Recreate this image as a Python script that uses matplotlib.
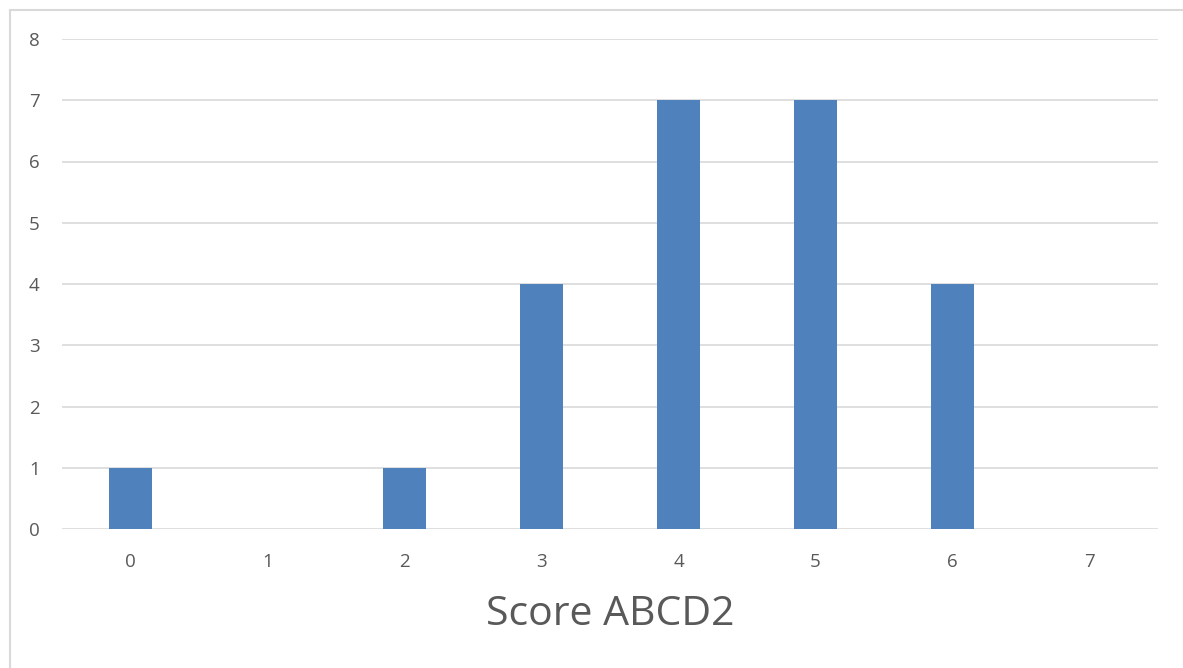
import matplotlib
matplotlib.use("Agg")
import matplotlib.pyplot as plt
from matplotlib.patches import Rectangle

# ABCD2 score distribution
scores = ["0", "1", "2", "3", "4", "5", "6", "7"]
counts = [1, 0, 1, 4, 7, 7, 4, 0]
y_ticks = [0, 1, 2, 3, 4, 5, 6, 7, 8]
x_title = "Score ABCD2"

plt.rcParams["font.family"] = ["Open Sans", "DejaVu Sans"]

W, H = 1183, 668
fig = plt.figure(figsize=(W / 100, H / 100), dpi=100)
fig.patch.set_facecolor("white")

# thin frame around the chart area
fig.patches.append(Rectangle((10 / W, -0.1), 1.2, (H - 10) / H + 0.1,
                             transform=fig.transFigure, fill=False,
                             edgecolor="#d9d9d9", linewidth=1.5))

ax = fig.add_axes([62 / W, 1 - 529 / H, (1158 - 62) / W, (529 - 39) / H])
x = list(range(len(scores)))
ax.bar(x, counts, width=0.31, color="#4f81bd", zorder=3)

ax.set_xlim(-0.5, len(scores) - 0.5)
ax.set_ylim(0, 8)
ax.set_yticks(y_ticks)
ax.set_xticks(x)
ax.set_xticklabels(scores)
ax.grid(axis="y", color="#d9d9d9", linewidth=1.2, zorder=0)
ax.set_axisbelow(True)
for s in ax.spines.values():
    s.set_visible(False)
ax.tick_params(length=0, labelsize=13.5, labelcolor="#595959")
ax.tick_params(axis="x", pad=17)
ax.tick_params(axis="y", pad=16)
ax.set_xlabel(x_title, fontsize=29.5, color="#595959", labelpad=17)

fig.savefig("out.png", dpi=100)
